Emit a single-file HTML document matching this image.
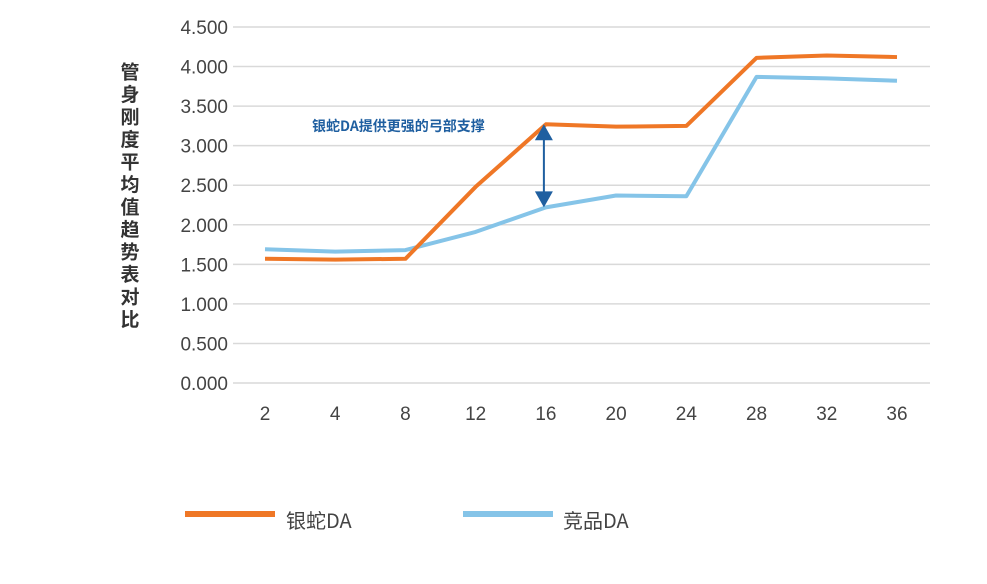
<!DOCTYPE html>
<html><head><meta charset="utf-8"><style>
body{margin:0;background:#fff;font-family:"Liberation Sans","Noto Sans CJK SC",sans-serif}
</style></head><body>
<svg width="987" height="579" viewBox="0 0 987 579" xmlns="http://www.w3.org/2000/svg">
<g id="grid"></g>
<g id="yt"></g>
<g id="xt"></g>
<g id="series"></g>
<text x="130" y="62" font-size="19" font-weight="bold" fill="#333" writing-mode="tb" style="writing-mode:vertical-rl;letter-spacing:3.5px;font-family:'Noto Sans CJK SC',sans-serif">管身刚度平均值趋势表对比</text>
<text x="312" y="131" font-size="14" font-weight="bold" fill="#1f5fa0" style="font-family:'Noto Sans CJK SC',sans-serif">银蛇DA提供更强的弓部支撑</text>
<g id="arrow"></g>
<g>
<line x1="185" y1="514" x2="275" y2="514" stroke="#ef7726" stroke-width="6"/>
<text x="286" y="528" font-size="20" fill="#444" style="font-family:'Noto Sans CJK SC',sans-serif">银蛇DA</text>
<line x1="463" y1="514" x2="553" y2="514" stroke="#85c4e8" stroke-width="6"/>
<text x="563" y="528" font-size="20" fill="#444" style="font-family:'Noto Sans CJK SC',sans-serif">竞品DA</text>
</g>
</svg>
<script>
const categories=["2","4","8","12","16","20","24","28","32","36"];
const yinshe=[1.57,1.56,1.57,2.48,3.27,3.24,3.25,4.11,4.14,4.12];
const jingpin=[1.69,1.66,1.68,1.91,2.22,2.37,2.36,3.87,3.85,3.82];
const yTicks=[0,0.5,1,1.5,2,2.5,3,3.5,4,4.5];
const annIndex=4;
const NS="http://www.w3.org/2000/svg";
const yScale=v=>383-v*(356/4.5);
const xScale=i=>265+i*(632/9);
function mk(tag,attrs,parent,txt){const e=document.createElementNS(NS,tag);for(const k in attrs)e.setAttribute(k,attrs[k]);if(txt!==undefined)e.textContent=txt;parent.appendChild(e);return e;}
const gridG=document.getElementById('grid'),ytG=document.getElementById('yt'),xtG=document.getElementById('xt'),serG=document.getElementById('series'),arrG=document.getElementById('arrow');
yTicks.forEach(v=>{
 const l=mk('line',{x1:233,x2:930,y1:yScale(v),y2:yScale(v),stroke:'#d9d9d9','stroke-width':1.5},gridG);
 
 
 const t=mk('text',{x:228,y:yScale(v)+7,'text-anchor':'end','font-size':19,fill:'#444'},ytG,v.toFixed(3));
 
 
});
categories.forEach((c,i)=>{
 const t=mk('text',{x:xScale(i),y:420,'text-anchor':'middle','font-size':19,fill:'#444'},xtG,c);
 
 
});
function drawLine(vals,color,name){
 const p=mk('polyline',{points:vals.map((v,i)=>xScale(i)+','+yScale(v)).join(' '),fill:'none',stroke:color,'stroke-width':4,'stroke-linejoin':'round'},serG);
 
 
}
drawLine(jingpin,'#85c4e8','line-jingpin');
drawLine(yinshe,'#ef7726','line-yinshe');
const ax=xScale(annIndex)-2,arrTop=yScale(yinshe[annIndex]),arrBot=yScale(jingpin[annIndex]);
mk('line',{x1:ax,x2:ax,y1:arrTop+14,y2:arrBot-14,stroke:'#1f5fa0','stroke-width':2},arrG);
mk('polygon',{points:`${ax},${arrTop} ${ax-9},${arrTop+16} ${ax+9},${arrTop+16}`,fill:'#1f5fa0'},arrG);
mk('polygon',{points:`${ax},${arrBot} ${ax-9},${arrBot-16} ${ax+9},${arrBot-16}`,fill:'#1f5fa0'},arrG);
</script>
</body></html>
